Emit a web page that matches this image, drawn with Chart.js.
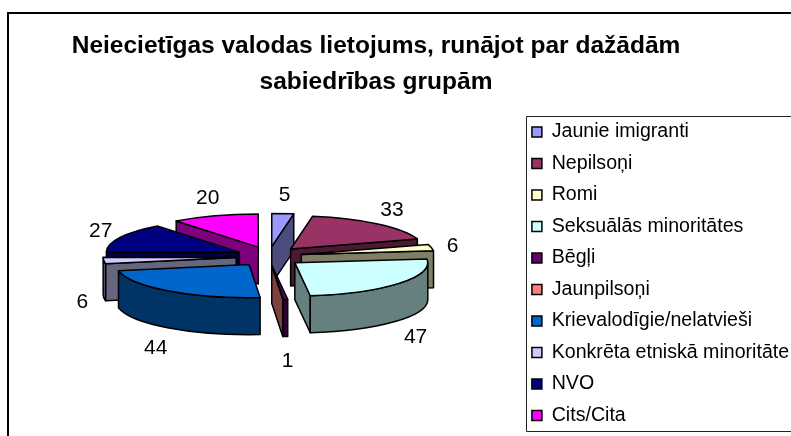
<!DOCTYPE html>
<html><head><meta charset="utf-8">
<style>html,body{margin:0;padding:0;background:#fff;overflow:hidden}canvas{display:block}</style>
<script src="https://cdn.jsdelivr.net/npm/chart.js@4"></script>
</head><body>
<canvas id="c" width="791" height="436"></canvas>
<script>
const categories = ["Jaunie imigranti","Nepilsoņi","Romi","Seksuālās minoritātes","Bēgļi","Jaunpilsoņi","Krievalodīgie/nelatvieši","Konkrēta etniskā minoritāte","NVO","Cits/Cita"];
const values = [5,33,6,47,1,0,44,6,27,20];
const colors = ["#9999FF","#993366","#FFFFCC","#CCFFFF","#660066","#FF8080","#0066CC","#CCCCFF","#000080","#FF00FF"];
const titleLines = ["Neiecietīgas valodas lietojums, runājot par dažādām","sabiedrības grupām"];

const SQUISH = 0.25, OFFSET_SQUISH = 0.3, DEPTH = 37, LINE = 1.5;
const darken = h => { const n = parseInt(h.slice(1),16);
  return `rgb(${(n>>16&255)>>1},${(n>>8&255)>>1},${(n&255)>>1})`; };

const pie3d = {
  id:'pie3d',
  afterLayout(chart){
    chart.chartArea = {left:12,right:526,top:99,bottom:414,width:514,height:315};
    const t = chart.titleBlock; t.left = 0; t.right = 752; t.top = 28;
    const l = chart.legend; l.left = 520; l.top = 110.3; l.bottom = 520; l.right = 791;
  },
  beforeDraw(chart){
    const c = chart.ctx;
    c.save();
    c.strokeStyle = '#000'; c.lineWidth = 2;
    c.beginPath(); c.moveTo(8,436); c.lineTo(8,13); c.lineTo(791,13); c.stroke();
    c.lineWidth = 1; c.strokeStyle = '#222';
    c.beginPath(); c.moveTo(791,116.5); c.lineTo(526.5,116.5); c.lineTo(526.5,431.5); c.lineTo(791,431.5); c.stroke();
    c.restore();
  },
  beforeDatasetsDraw(chart){
    const c = chart.ctx, arcs = chart.getDatasetMeta(0).data;
    const items = arcs.map((a,i)=>{
      const mid = (a.startAngle+a.endAngle)/2, off = a.options.offset;
      return {a,i,mid,x:a.x+off*Math.cos(mid),y:a.y+off*OFFSET_SQUISH*Math.sin(mid)};
    }).sort((p,q)=>Math.sin(p.mid)-Math.sin(q.mid));
    c.save();
    c.lineJoin = 'round'; c.lineWidth = LINE; c.strokeStyle = '#000';
    for(const s of items){
      const {a,x,y} = s, R = a.outerRadius, Ry = R*SQUISH, col = colors[s.i], dark = darken(col);
      const face = t => {
        c.beginPath(); c.moveTo(x,y); c.lineTo(x+R*Math.cos(t),y+Ry*Math.sin(t));
        c.lineTo(x+R*Math.cos(t),y+Ry*Math.sin(t)+DEPTH); c.lineTo(x,y+DEPTH); c.closePath();
        c.fillStyle = dark; c.fill(); c.stroke();
      };
      if(Math.cos(a.startAngle)<0) face(a.startAngle);
      if(Math.cos(a.endAngle)>0) face(a.endAngle);
      const r0 = Math.max(a.startAngle,0), r1 = Math.min(a.endAngle,Math.PI);
      if(r1>r0){
        c.beginPath(); c.ellipse(x,y,R,Ry,0,r0,r1);
        c.ellipse(x,y+DEPTH,R,Ry,0,r1,r0,true); c.closePath();
        c.fillStyle = dark; c.fill(); c.stroke();
      }
      if(a.endAngle>a.startAngle){
        c.beginPath(); c.moveTo(x,y); c.ellipse(x,y,R,Ry,0,a.startAngle,a.endAngle); c.closePath();
        c.fillStyle = col; c.fill(); c.stroke();
      }
    }
    c.fillStyle = '#000'; c.font = '21px "Liberation Sans"'; c.textAlign='center'; c.textBaseline='middle';
    arcs.forEach((a,i)=>{
      if(!values[i]) return;
      const mid = (a.startAngle+a.endAngle)/2, sn = Math.sin(mid);
      c.fillText(String(values[i]), a.x+a.outerRadius*1.41*Math.cos(mid), a.y+3+65*sn+(sn>0?DEPTH:0));
    });
    c.restore();
    return false;
  }
};

new Chart(document.getElementById('c'),{
  type:'pie',
  data:{labels:categories,datasets:[{data:values,backgroundColor:colors,borderColor:'#000',borderWidth:1.5,offset:33}]},
  plugins:[pie3d],
  options:{
    responsive:false,animation:false,radius:133,
    plugins:{
      tooltip:{enabled:false},
      title:{display:true,text:titleLines,color:'#000',align:'center',padding:0,
        font:{family:'"Liberation Sans"',size:24.5,weight:'bold',lineHeight:1.47}},
      legend:{display:true,position:'right',align:'start',
        labels:{color:'#000',boxWidth:10,boxHeight:10,padding:11.9,font:{family:'"Liberation Sans"',size:19.6}}}
    }
  }
});
</script>
</body></html>
